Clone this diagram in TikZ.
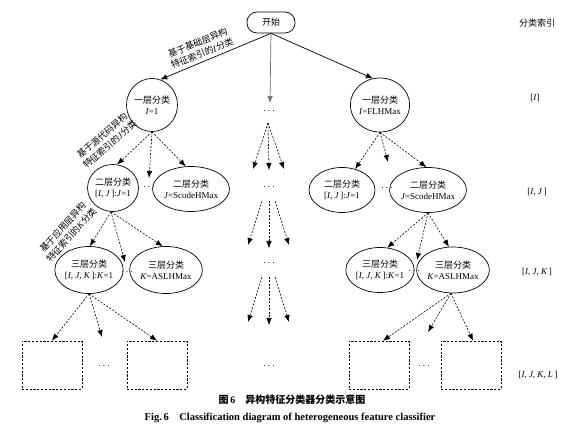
\documentclass[tikz,border=0pt]{standalone}
\usepackage{fontspec}
\setmainfont{Liberation Serif}
\newfontfamily\cjk{Noto Sans CJK SC}
\usetikzlibrary{shapes.geometric,arrows.meta,calc}
\newcommand\vI{\textit{I}}
\newcommand\vJ{\textit{J}}
\newcommand\vK{\textit{K}}
\newcommand\vL{\textit{L}}
\begin{document}
\begin{tikzpicture}[x=1pt,y=-1pt,
  every node/.style={font=\fontsize{9}{11}\selectfont, align=center, inner sep=0pt},
  ell/.style={draw, ellipse, line width=0.7pt},
  dbox/.style={draw, dash pattern=on 2.2pt off 1.6pt, line width=0.6pt, minimum width=60pt, minimum height=48pt},
  darr/.style={-{Latex[length=7pt,width=5.5pt]}, dash pattern=on 2pt off 1.5pt, line width=0.6pt},
  sarr/.style={-{Latex[length=7pt,width=5.5pt]}, line width=0.7pt},
  lab/.style={font=\fontsize{9}{11.5}\selectfont},
  dots/.style={font=\fontsize{10}{11}\selectfont},
  ]
\useasboundingbox[fill=white] (0,0) rectangle (579,430);

% start
\node[draw, line width=0.7pt, rounded corners=10pt, minimum width=48pt, minimum height=21pt] (start) at (271,22.5) {\cjk 开始};

% index column
\node (ix0) at (537,23) {\cjk 分类索引};
\node (ix1) at (535,98) {[\vI]};
\node (ix2) at (537,192) {[\vI, \vJ\,]};
\node (ix3) at (537,272) {[\vI, \vJ, \vK\,]};
\node (ix4) at (538,375) {[\vI, \vJ, \vK, \vL\,]};

% level 1
\node[ell, minimum width=51pt, minimum height=53pt] (L1) at (152,105) {{\cjk 一层分类}\\\vI=1};
\node[ell, minimum width=56pt, minimum height=54pt] (R1) at (380,105) {{\cjk 一层分类}\\\vI=FLHMax};

% level 2
\node[ell, minimum width=50pt, minimum height=47pt] (L2a) at (113,188) {{\cjk 二层分类}\\{[\vI, \vJ\,]:\vJ=1}};
\node[ell, minimum width=64pt, minimum height=45pt] (L2b) at (191,189) {{\cjk 二层分类}\\\vJ=ScodeHMax};
\node[dots] (dL2) at (149,187) {$\cdots$};
\node[ell, minimum width=66pt, minimum height=45pt] (R2a) at (342,190) {{\cjk 二层分类}\\{[\vI, \vJ\,]:\vJ=1}};
\node[ell, minimum width=62pt, minimum height=45pt] (R2b) at (428,190) {{\cjk 二层分类}\\\vJ=ScodeHMax};
\node[dots] (dR2) at (387,188) {$\cdots$};

% level 3
\node[ell, minimum width=56pt, minimum height=47pt] (L3a) at (89,270) {{\cjk 三层分类}\\{[\vI, \vJ, \vK\,]:\vK=1}};
\node[ell, minimum width=59pt, minimum height=47pt] (L3b) at (166,270) {{\cjk 三层分类}\\\vK=ASLHMax};
\node[dots] (dL3) at (127,272) {$\cdots$};
\node[ell, minimum width=56pt, minimum height=45pt] (R3a) at (380,270) {{\cjk 三层分类}\\{[\vI, \vJ, \vK\,]:\vK=1}};
\node[ell, minimum width=60pt, minimum height=46pt] (R3b) at (453,270) {{\cjk 三层分类}\\\vK=ASLHMax};
\node[dots] (dR3) at (414,271) {$\cdots$};

% level 4 boxes
\node[dbox] (LB1) at (52,365) {};
\node[dbox] (LB2) at (157,365) {};
\node[dbox] (RB1) at (379,365) {};
\node[dbox] (RB2) at (471,365) {};
\node[dots] (dLB) at (104,366) {$\cdots$};
\node[dots] (dRB) at (424,366) {$\cdots$};

% centre column
\node[dots] (dC1) at (269,111) {$\cdots$};
\node[dots] (dC2) at (269,187) {$\cdots$};
\node[dots] (dC3) at (269,263) {$\cdots$};
\node[dots] (dC4) at (269,366) {$\cdots$};

% free-end coordinates
\coordinate (c0) at (270,103);
\coordinate (cA) at (268,123);
\coordinate (tA1) at (253,169);
\coordinate (tA2) at (269,170);
\coordinate (tA3) at (284,169);
\coordinate (cB1) at (262,201);
\coordinate (cB2) at (269,201);
\coordinate (cB3) at (275,201);
\coordinate (tB1) at (248,245);
\coordinate (tB2) at (269,248);
\coordinate (tB3) at (289,245);
\coordinate (cC1) at (262,277);
\coordinate (cC2) at (269,277);
\coordinate (cC3) at (275,277);
\coordinate (tC1) at (248,322);
\coordinate (tC2) at (269,325);
\coordinate (tC3) at (289,322);
\coordinate (mL2) at (149,178);
\coordinate (mL3) at (125,262);
\coordinate (mLB) at (102,337);
\coordinate (mR2) at (388,162);
\coordinate (mR3) at (417,260);
\coordinate (mRB) at (428,332);

% start connectors
\draw[sarr] (start.south) -- (L1.72);
\draw[sarr] (start.south) -- (R1.105);
\draw[sarr, draw=black!55, fill=black!55] (start.south) -- (c0);

% left tree
\draw[darr] (L1.south) -- (L2a.80);
\draw[darr] (L1.south) -- (mL2);
\draw[darr] (L1.south) -- (L2b.103);
\draw[darr] (L2a.265) -- (L3a.88);
\draw[darr] (L2a.265) -- (mL3);
\draw[darr] (L2a.265) -- (L3b.98);
\draw[darr] (L3a.south) -- (LB1.north);
\draw[darr] (L3a.south) -- (mLB);
\draw[darr] (L3a.south) -- (LB2.north);

% right tree
\draw[darr] (R1.south) -- (R2a.58);
\draw[darr] (R1.south) -- (mR2);
\draw[darr] (R1.south) -- (R2b.94);
\draw[darr] (R2b.south) -- (R3a.72);
\draw[darr] (R2b.south) -- (mR3);
\draw[darr] (R2b.south) -- (R3b.100);
\draw[darr] (R3b.265) -- ($(RB1.north)+(4,0)$);
\draw[darr] (R3b.265) -- (mRB);
\draw[darr] (R3b.265) -- ($(RB2.north)+(2,0)$);

% centre column
\draw[darr] (cA) -- (tA1);
\draw[darr] (cA) -- (tA2);
\draw[darr] (cA) -- (tA3);
\draw[darr] (cB1) -- (tB1);
\draw[darr] (cB2) -- (tB2);
\draw[darr] (cB3) -- (tB3);
\draw[darr] (cC1) -- (tC1);
\draw[darr] (cC2) -- (tC2);
\draw[darr] (cC3) -- (tC3);

% edge labels
\node[lab, rotate=22] (lb1) at (200,48) {{\cjk 基于基础层异构}\\{\cjk 特征索引的}\vI{\cjk 分类}};
\node[lab, rotate=41] (lb2) at (106,140) {{\cjk 基于源代码异构}\\{\cjk 特征索引的}\vJ{\cjk 分类}};
\node[lab, rotate=48] (lb3) at (67,231) {{\cjk 基于应用层异构}\\{\cjk 特征索引的}\vK{\cjk 分类}};

% caption
\node[font=\fontsize{10}{12}\selectfont] (cap1) at (292,400) {{\cjk\bfseries 图}\,\textbf{6}\quad{\cjk\bfseries 异构特征分类器分类示意图}};
\node[font=\fontsize{10.5}{12}\selectfont] (cap2) at (290,418) {\textbf{Fig.\,6\quad Classification diagram of heterogeneous feature classifier}};
\end{tikzpicture}
\end{document}
